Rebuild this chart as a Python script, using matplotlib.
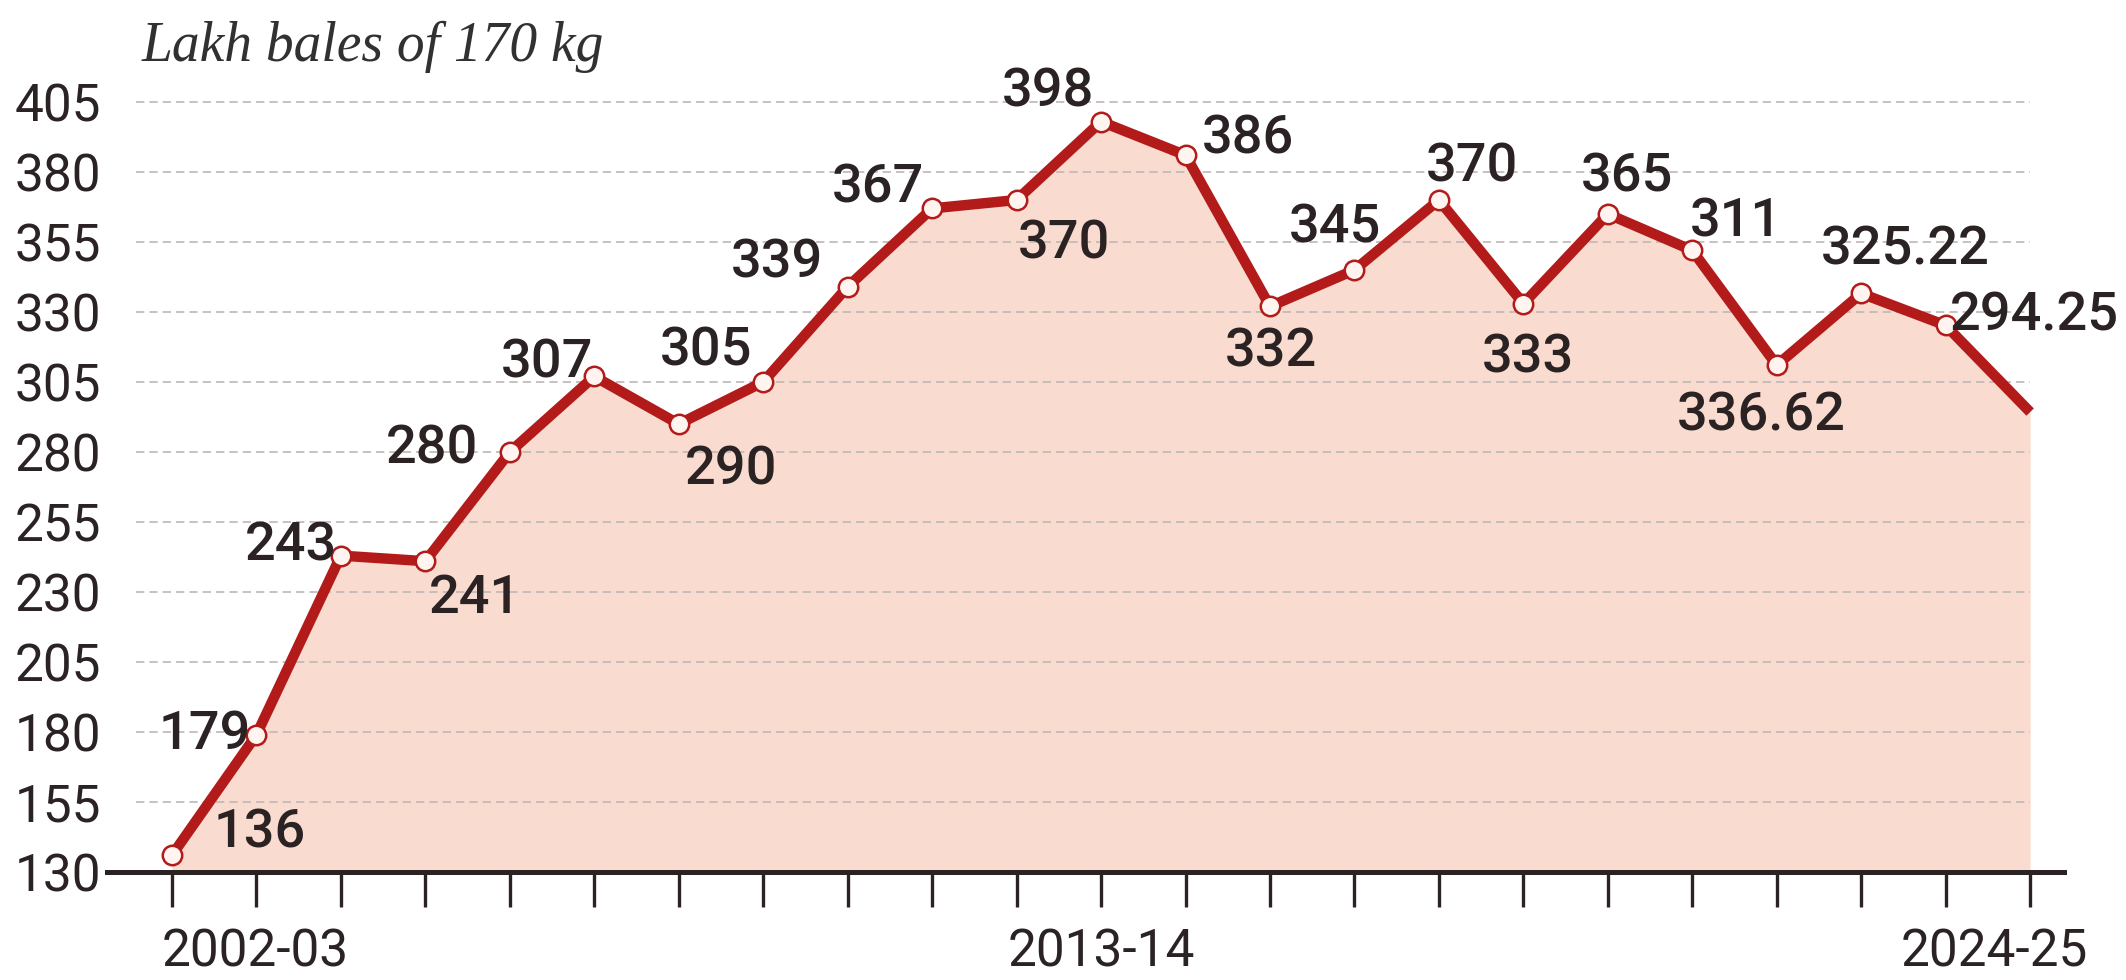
import matplotlib
matplotlib.use("Agg")
import matplotlib.pyplot as plt

# Cotton production, lakh bales of 170 kg
seasons = ["2002-03", "2003-04", "2004-05", "2005-06", "2006-07", "2007-08",
           "2008-09", "2009-10", "2010-11", "2011-12", "2012-13", "2013-14",
           "2014-15", "2015-16", "2016-17", "2017-18", "2018-19", "2019-20",
           "2020-21", "2021-22", "2022-23", "2023-24", "2024-25"]
production = [136, 179, 243, 241, 280, 307, 290, 305, 339, 367, 370, 398,
              386, 332, 345, 370, 333, 365, 352, 311, 336.62, 325.22, 294.25]
# which points carry a printed value
labelled = [True] * 18 + [False] + [True] * 4
y_ticks = [130, 155, 180, 205, 230, 255, 280, 305, 330, 355, 380, 405]
shown_seasons = ["2002-03", "2013-14", "2024-25"]

# label offsets (points) from each mark
offsets = [(63, 16), (-37, 0), (-36, 7), (36, -27), (-56, 2), (-34, 10),
           (38, -33), (-41, 22), (-51, 17), (-39, 15), (34, -32), (-38, 21),
           (45, 12), (1, -33), (-14, 30), (24, 24), (3, -39), (14, 27),
           (0, 0), (-29, 103), (-72, -88), (-29, 54), (3, 69)]

RED = "#b31b1b"
FILL = "#f9dccf"
INK = "#2b2323"

fig = plt.figure(figsize=(21.26, 9.8), dpi=100)
ax = fig.add_axes([0.0503, 0.1102, 0.9205, 0.80])

x = list(range(len(production)))
ax.set_xlim(-0.77, 22.4)
ax.set_ylim(130, 410)

ax.fill_between(x, production, 130, color=FILL, lw=0, zorder=1)

# dashed horizontal guides
for t in y_ticks[1:]:
    ax.hlines(t, -0.43, x[-1], colors="#bdb8b6", lw=1.2,
              linestyles=(0, (5, 3)), zorder=2)

ax.plot(x, production, color=RED, lw=7.5, solid_joinstyle="round",
        solid_capstyle="butt", zorder=3)
ax.plot(x[:-1], production[:-1], ls="none", marker="o", ms=14,
        mfc="#fff4ef", mec=RED, mew=1.8, zorder=4)

for i, (v, show) in enumerate(zip(production, labelled)):
    if not show:
        continue
    txt = f"{v:g}" if v != int(v) else f"{int(v)}"
    dx, dy = offsets[i]
    ax.annotate(txt, (i, v), xytext=(dx, dy), textcoords="offset points",
                ha="center", va="center", fontsize=39, color=INK,
                family="Roboto", fontweight="medium", zorder=5)

# axes styling
for s in ["top", "right", "left"]:
    ax.spines[s].set_visible(False)
ax.spines["bottom"].set_linewidth(3.6)
ax.spines["bottom"].set_color(INK)
ax.spines["bottom"].set_zorder(6)

ax.set_yticks(y_ticks)
ax.set_yticklabels([str(t) for t in y_ticks], family="Roboto",
                   fontsize=37, color=INK)
ax.tick_params(axis="y", length=0, pad=4)

ax.set_xticks(x)
ax.set_xticklabels([])
ax.tick_params(axis="x", direction="out", length=25, width=2.4,
               color=INK)

trans = ax.get_xaxis_transform()
pos = {s: seasons.index(s) for s in shown_seasons}
label_y = -0.103
ax.text(pos["2002-03"] - 0.12, label_y, "2002-03", transform=trans,
        ha="left", va="center", fontsize=37, family="Roboto", color=INK)
ax.text(pos["2013-14"], label_y, "2013-14", transform=trans,
        ha="center", va="center", fontsize=37, family="Roboto", color=INK)
ax.text(pos["2024-25"] + 0.68, label_y, "2024-25", transform=trans,
        ha="right", va="center", fontsize=37, family="Roboto", color=INK)

fig.text(142 / 2126, 1 - 47 / 980, "Lakh bales of 170 kg",
         family="Liberation Serif", style="italic", fontsize=40,
         color="#333030", ha="left", va="center")

fig.savefig("out.png", dpi=100, facecolor="white")
